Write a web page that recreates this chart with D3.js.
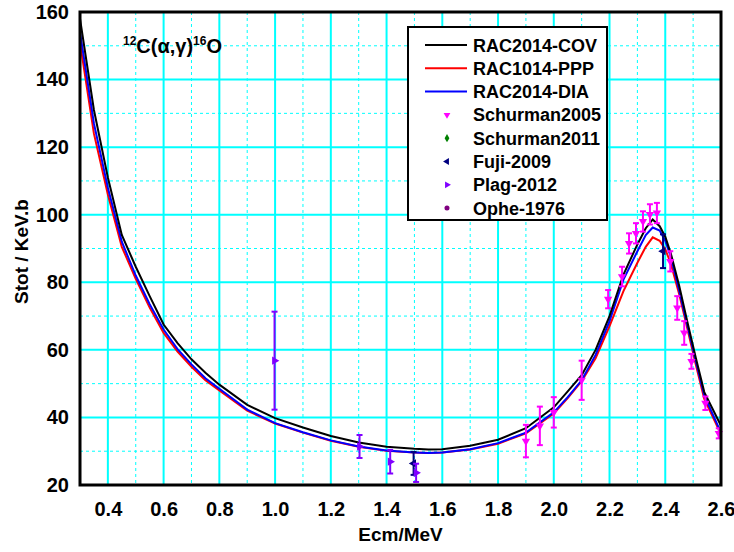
<!DOCTYPE html>
<html>
<head>
<meta charset="utf-8">
<script src="https://d3js.org/d3.v7.min.js"></script>
<style>
  body { margin: 0; background: #fff; }
  text { font-family: "Liberation Sans", Arial, sans-serif; font-weight: bold; }
</style>
</head>
<body>
<div id="vis"></div>
<script>
// curves (theory)
const energy = [0.30,0.35,0.40,0.45,0.50,0.55,0.60,0.65,0.70,0.75,0.80,0.90,1.00,1.10,1.20,1.30,1.40,1.50,1.55,1.60,1.70,1.80,1.90,2.00,2.05,2.10,2.15,2.20,2.25,2.30,2.33,2.355,2.38,2.40,2.42,2.45,2.48,2.51,2.54,2.60];
const cov = [158,131,111,94,84.6,75.9,67.5,62,57.2,53.2,49.7,43.7,39.8,37,34.5,32.6,31.3,30.7,30.5,30.6,31.6,33.4,36.8,43,47.7,52.5,60,70,82.3,91.2,96,98.6,96.6,93.5,88.5,79,68,57.5,47.5,37.5];
const ppp = [151,124,106,90.5,81,72.5,65,59.5,55,51,48,42,38.2,35.5,33.1,31.3,30.1,29.6,29.5,29.6,30.5,32.2,35.3,41.2,45.7,50.7,57.5,67,77.4,85.8,90.5,93.3,92.3,89.8,85.5,76.5,66,55.5,45.5,35];
const dia = [154,127,108,92,82,73.5,66,60.2,55.7,51.6,48.5,42.3,38.3,35.6,33.2,31.4,30.2,29.6,29.5,29.6,30.6,32.4,35.5,41.5,46,51,58.5,68.5,80.8,89.2,94,96.2,95.3,92.3,87.5,77.5,67,56.5,46.5,35.5];

// measurements
const schur05E = [1.90,1.95,2.00,2.10,2.195,2.245,2.27,2.295,2.32,2.345,2.37,2.418,2.443,2.468,2.494,2.544,2.592];
const schur05S = [33.0,37.5,41.5,51.0,75.0,81.7,91.5,94.5,98.0,100.1,100.5,86.2,72.4,65.0,56.6,44.2,35.3];
const schur05Err = [4.8,5.7,4.5,5.8,2.7,2.9,3.0,3.0,3.0,3.0,3.0,3.0,3.5,3.5,2.2,2.0,1.5];
const schur11E = [], schur11S = [], schur11Err = [];
const fujiE = [1.497,2.392];
const fujiS = [26.4,89.2];
const fujiErr = [3.4,5.0];
const plagE = [0.998,1.303,1.413,1.506];
const plagS = [56.8,31.4,26.9,23.6];
const plagErr = [14.5,3.4,3.5,2.7];
const opheE = [], opheS = [], opheErr = [];

const xTicks = [0.4,0.6,0.8,1.0,1.2,1.4,1.6,1.8,2.0,2.2,2.4,2.6];
const xMinor = [0.3,0.5,0.7,0.9,1.1,1.3,1.5,1.7,1.9,2.1,2.3,2.5];
const yTicks = [20,40,60,80,100,120,140,160];
const yMinor = [30,50,70,90,110,130,150];

const width = 734, height = 552;
const margin = {left: 80, right: 13, top: 12, bottom: 67};
const w = width - margin.left - margin.right;
const h = height - margin.top - margin.bottom;

const x = d3.scaleLinear().domain([0.3, 2.6]).range([0, w]);
const y = d3.scaleLinear().domain([20, 160]).range([h, 0]);

const svg = d3.select('#vis').append('svg')
  .attr('width', width).attr('height', height);
const g = svg.append('g').attr('transform', `translate(${margin.left},${margin.top})`);

// grid
g.selectAll('.xminor').data(xMinor).enter().append('line')
  .attr('x1', d => x(d)).attr('x2', d => x(d)).attr('y1', 0).attr('y2', h)
  .attr('stroke', '#00ffff').attr('stroke-width', 1).attr('stroke-dasharray', '3,3');
g.selectAll('.yminor').data(yMinor).enter().append('line')
  .attr('y1', d => y(d)).attr('y2', d => y(d)).attr('x1', 0).attr('x2', w)
  .attr('stroke', '#00ffff').attr('stroke-width', 1).attr('stroke-dasharray', '3,3');
g.selectAll('.xmajor').data(xTicks).enter().append('line')
  .attr('x1', d => x(d)).attr('x2', d => x(d)).attr('y1', 0).attr('y2', h)
  .attr('stroke', '#00ffff').attr('stroke-width', 2);
g.selectAll('.ymajor').data(yTicks).enter().append('line')
  .attr('y1', d => y(d)).attr('y2', d => y(d)).attr('x1', 0).attr('x2', w)
  .attr('stroke', '#00ffff').attr('stroke-width', 2);

// axes labels
const xAxis = g.append('g').attr('transform', `translate(0,${h})`)
  .call(d3.axisBottom(x).tickValues(xTicks).tickFormat(d3.format('.1f')).tickSize(0).tickPadding(17));
const yAxis = g.append('g')
  .call(d3.axisLeft(y).tickValues(yTicks).tickFormat(d3.format('d')).tickSize(0).tickPadding(11));
[xAxis, yAxis].forEach(a => {
  a.select('.domain').remove();
  a.selectAll('text').style('font-size', '20px').style('font-family', '"Liberation Sans", Arial, sans-serif')
    .style('font-weight', 'bold').attr('fill', '#000');
});

// curves
const clip = svg.append('clipPath').attr('id', 'clip').append('rect').attr('width', w).attr('height', h);
const line = d3.line().x(d => x(d[0])).y(d => y(d[1]));
const curves = [
  {name: 'RAC2014-COV', vals: cov, color: '#000000'},
  {name: 'RAC1014-PPP', vals: ppp, color: '#ff0000'},
  {name: 'RAC2014-DIA', vals: dia, color: '#0000ff'}
];
const cg = g.append('g').attr('clip-path', 'url(#clip)');
[curves[1], curves[2], curves[0]].forEach(c => {
  cg.append('path').datum(energy.map((e, i) => [e, c.vals[i]]))
    .attr('d', line).attr('fill', 'none').attr('stroke', c.color).attr('stroke-width', 2);
});

// markers
const sym = {
  down: d3.symbol().type(d3.symbolTriangle).size(30),
  diamond: d3.symbol().type(d3.symbolDiamond).size(25),
  left: d3.symbol().type(d3.symbolTriangle).size(30),
  right: d3.symbol().type(d3.symbolTriangle).size(30),
  circle: d3.symbol().type(d3.symbolCircle).size(25)
};
const rot = {down: 180, diamond: 0, left: -90, right: 90, circle: 0};
const sets = [
  {name: 'Schurman2005', E: schur05E, S: schur05S, err: schur05Err, color: '#ff00ff', shape: 'down'},
  {name: 'Schurman2011', E: schur11E, S: schur11S, err: schur11Err, color: '#008000', shape: 'diamond'},
  {name: 'Fuji-2009', E: fujiE, S: fujiS, err: fujiErr, color: '#000080', shape: 'left'},
  {name: 'Plag-2012', E: plagE, S: plagS, err: plagErr, color: '#8000ff', shape: 'right'},
  {name: 'Ophe-1976', E: opheE, S: opheS, err: opheErr, color: '#800080', shape: 'circle'}
];
const pg = g.append('g');
sets.forEach(s => {
  const pts = s.E.map((e, i) => ({e: e, s: s.S[i], err: s.err[i]}));
  const el = pg.selectAll(null).data(pts).enter().append('g');
  el.append('line').attr('x1', d => x(d.e)).attr('x2', d => x(d.e))
    .attr('y1', d => y(d.s + d.err)).attr('y2', d => y(d.s - d.err))
    .attr('stroke', s.color).attr('stroke-width', 2);
  el.append('line').attr('x1', d => x(d.e) - 3).attr('x2', d => x(d.e) + 3)
    .attr('y1', d => y(d.s + d.err)).attr('y2', d => y(d.s + d.err))
    .attr('stroke', s.color).attr('stroke-width', 2);
  el.append('line').attr('x1', d => x(d.e) - 3).attr('x2', d => x(d.e) + 3)
    .attr('y1', d => y(d.s - d.err)).attr('y2', d => y(d.s - d.err))
    .attr('stroke', s.color).attr('stroke-width', 2);
  el.append('path').attr('d', sym[s.shape])
    .attr('transform', d => `translate(${x(d.e)},${y(d.s)}) rotate(${rot[s.shape]})`)
    .attr('fill', s.color);
});

// frame
g.append('rect').attr('width', w).attr('height', h)
  .attr('fill', 'none').attr('stroke', '#000').attr('stroke-width', 3);

// title
const t = g.append('text').attr('x', 43).attr('y', 41).style('font-size', '20px');
t.append('tspan').text('12').style('font-size', '12px').attr('dy', -8);
t.append('tspan').text('C(α,γ)').attr('dy', 8);
t.append('tspan').text('16').style('font-size', '12px').attr('dy', -8);
t.append('tspan').text('O').attr('dy', 8);

// axis titles
svg.append('text').attr('x', margin.left + w / 2).attr('y', 541)
  .attr('text-anchor', 'middle').style('font-size', '19px').text('Ecm/MeV');
svg.append('text').attr('transform', `translate(28,${margin.top + h / 2 + 3}) rotate(-90)`)
  .attr('text-anchor', 'middle').style('font-size', '19px').text('Stot / KeV.b');

// legend
const lg = svg.append('g').attr('transform', 'translate(408,27)');
lg.append('rect').attr('width', 199).attr('height', 193)
  .attr('fill', '#fff').attr('stroke', '#000').attr('stroke-width', 2);
const rowY = i => 18 + i * 23.3;
curves.forEach((c, i) => {
  lg.append('line').attr('x1', 17).attr('x2', 59).attr('y1', rowY(i)).attr('y2', rowY(i))
    .attr('stroke', c.color).attr('stroke-width', 2);
  lg.append('text').attr('x', 65).attr('y', rowY(i) + 6.5).style('font-size', '18px').text(c.name);
});
sets.forEach((s, j) => {
  const i = j + 3;
  lg.append('path').attr('d', d3.symbol().type(s.shape === 'circle' ? d3.symbolCircle : s.shape === 'diamond' ? d3.symbolDiamond : d3.symbolTriangle).size(20))
    .attr('transform', `translate(39,${rowY(i)}) rotate(${rot[s.shape]})`)
    .attr('fill', s.color);
  lg.append('text').attr('x', 65).attr('y', rowY(i) + 6.5).style('font-size', '18px').text(s.name);
});
</script>
</body>
</html>
